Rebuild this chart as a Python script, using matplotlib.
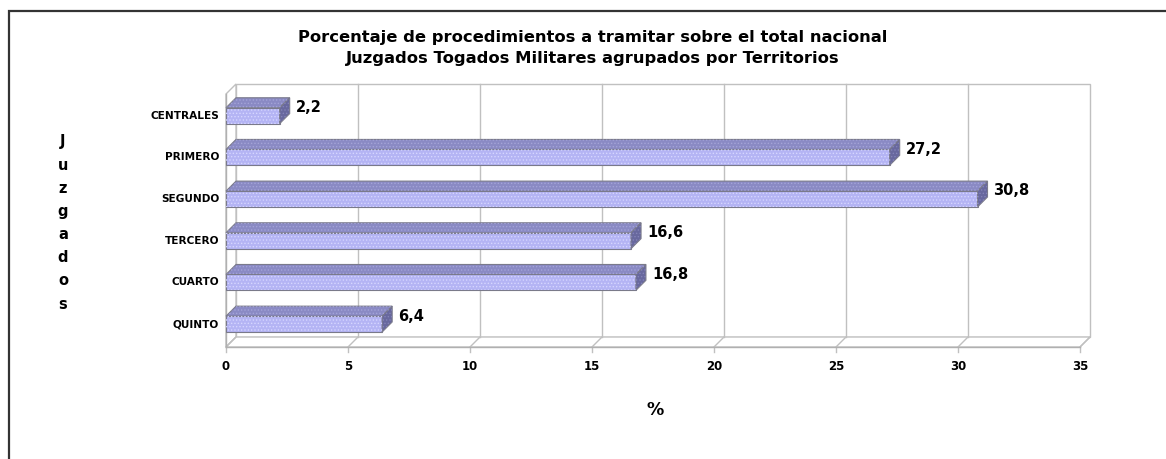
import matplotlib
matplotlib.use("Agg")
import matplotlib.pyplot as plt
from matplotlib.patches import Polygon, Rectangle

# ---- data ----
categories = ["CENTRALES", "PRIMERO", "SEGUNDO", "TERCERO", "CUARTO", "QUINTO"]
values = [2.2, 27.2, 30.8, 16.6, 16.8, 6.4]
value_labels = ["2,2", "27,2", "30,8", "16,6", "16,8", "6,4"]
xticks = [0, 5, 10, 15, 20, 25, 30, 35]
xtick_labels = ["0", "5", "10", "15", "20", "25", "30", "35"]
title = ("Porcentaje de procedimientos a tramitar sobre el total nacional\n"
         "Juzgados Togados Militares agrupados por Territorios")
ylabel = "Juzgados"
xlabel = "%"

plt.rcParams['font.family'] = ['DejaVu Sans']
plt.rcParams['hatch.linewidth'] = 0.6

W, H = 1166, 459
fig = plt.figure(figsize=(W / 100, H / 100), dpi=100)
fig.patch.set_facecolor('white')

# front plotting box (pixels)
L, R, T, B = 226, 1080, 94, 347
ax = fig.add_axes([L / W, 1 - B / H, (R - L) / W, (B - T) / H])
xmax = 35
y_top, y_bot = -0.52, 5.55
ax.set_xlim(0, xmax)
ax.set_ylim(y_bot, y_top)
ax.axis('off')

# 3-D depth (pixels -> data units)
DPX, DPY = 10, 10
dx = DPX * xmax / (R - L)
dy = DPY * (y_bot - y_top) / (B - T)
px_y = (y_bot - y_top) / (B - T)

grid_c = '#c0c0c0'
wall_kw = dict(clip_on=False, zorder=0)

# back wall
ax.add_patch(Polygon([(dx, y_bot - dy), (dx, y_top - dy), (xmax + dx, y_top - dy),
                      (xmax + dx, y_bot - dy)], closed=True, fc='white', ec=grid_c,
                     lw=1, **wall_kw))
for t in xticks[1:-1]:
    ax.plot([t + dx, t + dx], [y_bot - dy, y_top - dy], color=grid_c, lw=1,
            clip_on=False, zorder=0.5)
# left wall
ax.add_patch(Polygon([(0, y_bot), (0, y_top), (dx, y_top - dy), (dx, y_bot - dy)],
                     closed=True, fc='white', ec=grid_c, lw=1, **wall_kw))
# floor
ax.add_patch(Polygon([(0, y_bot), (xmax, y_bot), (xmax + dx, y_bot - dy), (dx, y_bot - dy)],
                     closed=True, fc='white', ec=grid_c, lw=1, **wall_kw))
for t in xticks:
    ax.plot([t, t + dx], [y_bot, y_bot - dy], color=grid_c, lw=1, clip_on=False, zorder=0.5)
    ax.plot([t, t], [y_bot, y_bot + 5 * px_y], color=grid_c, lw=1, clip_on=False, zorder=0.5)
ax.plot([0, xmax], [y_bot, y_bot], color='#b0b0b0', lw=1, clip_on=False, zorder=0.6)
ax.plot([0, 0], [y_bot, y_top], color='#b0b0b0', lw=1, clip_on=False, zorder=0.6)

# bars
h = 0.38
front_c = '#b4b4f4'
top_c = '#8a8ac4'
side_c = '#68689e'
edge_c = '#7a7a8a'
ypos = list(range(len(categories)))
ax.barh(ypos, values, height=h, color=front_c, edgecolor=edge_c, lw=0.8, zorder=3)
ax.barh(ypos, values, height=h, color='none', edgecolor='#d6d6ff', lw=0, hatch='.....', zorder=3.1)
for y, v in zip(ypos, values):
    y0, y1 = y - h / 2, y + h / 2
    ax.add_patch(Polygon([(0, y0), (v, y0), (v + dx, y0 - dy), (dx, y0 - dy)], closed=True,
                         fc=top_c, ec=edge_c, lw=0.8, zorder=3, clip_on=False))
    ax.add_patch(Polygon([(0, y0), (v, y0), (v + dx, y0 - dy), (dx, y0 - dy)], closed=True,
                         fc='none', ec='#a4a4d8', lw=0, hatch='.....', zorder=3.1, clip_on=False))
    ax.add_patch(Polygon([(v, y0), (v, y1), (v + dx, y1 - dy), (v + dx, y0 - dy)], closed=True,
                         fc=side_c, ec=edge_c, lw=0.8, zorder=3, clip_on=False))
    ax.add_patch(Polygon([(v, y0), (v, y1), (v + dx, y1 - dy), (v + dx, y0 - dy)], closed=True,
                         fc='none', ec='#8484b8', lw=0, hatch='.....', zorder=3.1, clip_on=False))

# value labels
for y, v, lbl in zip(ypos, values, value_labels):
    ax.annotate(lbl, xy=(v, y), xytext=(11.5, 5.8), textcoords='offset points',
                ha='left', va='center', fontsize=10.5, fontweight='bold', color='black',
                annotation_clip=False)

# category labels
for y, c in zip(ypos, categories):
    ax.annotate(c, xy=(0, y), xytext=(-5, 0), textcoords='offset points',
                ha='right', va='center', fontsize=7.6, fontweight='bold', color='black',
                annotation_clip=False)

# x tick labels
for t, lbl in zip(xticks, xtick_labels):
    ax.annotate(lbl, xy=(t, y_bot), xytext=(0, -14), textcoords='offset points',
                ha='center', va='center', fontsize=8.5, fontweight='bold', color='black',
                annotation_clip=False)

# axis titles and chart title
fig.text(655 / W, 1 - 410 / H, xlabel, ha='center', va='center', fontsize=12.5,
         fontweight='bold')
fig.text(63 / W, 1 - 223 / H, "\n".join(ylabel), ha='center', va='center', fontsize=10.5,
         fontweight='bold', linespacing=1.68, multialignment='center')
fig.text(593 / W, 1 - 48 / H, title, ha='center', va='center', fontsize=11.8,
         fontweight='bold', linespacing=1.5, multialignment='center')

# outer chart-area border (continues past the right and bottom edges)
fig.add_artist(Rectangle((9 / W, -0.2), 2, 1 - 11 / H + 0.2, transform=fig.transFigure,
                         fill=False, ec='#333333', lw=1.6))

fig.savefig("out.png", dpi=100, facecolor='white')
